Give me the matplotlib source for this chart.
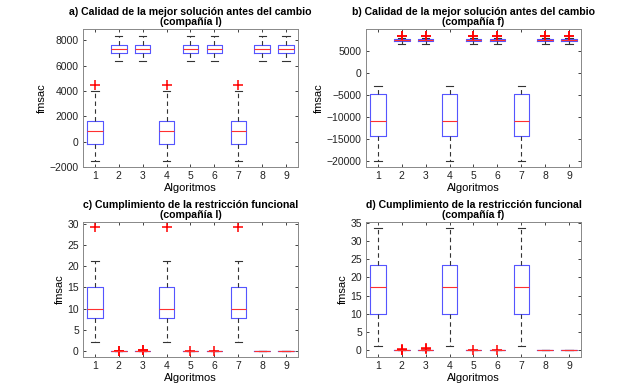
import matplotlib
matplotlib.use("Agg")
import matplotlib.pyplot as plt

plt.rcParams['font.family'] = ['Liberation Sans', 'DejaVu Sans']

algoritmos = [1, 2, 3, 4, 5, 6, 7, 8, 9]
tick_labels = ['1', '2', '3', '4', '5', '6', '7', '8', '9']

# Panel a: Calidad, compañía l
a_whislo = [-1550, 6350, 6350, -1550, 6350, 6350, -1550, 6350, 6350]
a_q1     = [-150, 7000, 7000, -150, 7000, 7000, -150, 7000, 7000]
a_med    = [850, 7300, 7300, 850, 7300, 7300, 850, 7300, 7300]
a_q3     = [1650, 7650, 7650, 1650, 7650, 7650, 1650, 7650, 7650]
a_whishi = [4000, 8350, 8350, 4000, 8350, 8350, 4000, 8350, 8350]
a_fliers = [[4500], [], [], [4500], [], [], [4500], [], []]

# Panel b: Calidad, compañía f
b_whislo = [-20000, 6750, 6750, -20000, 6750, 6750, -20000, 6750, 6750]
b_q1     = [-14400, 7250, 7250, -14400, 7250, 7250, -14400, 7250, 7250]
b_med    = [-11000, 7500, 7500, -11000, 7500, 7500, -11000, 7500, 7500]
b_q3     = [-4700, 7750, 7750, -4700, 7750, 7750, -4700, 7750, 7750]
b_whishi = [-3000, 8100, 8100, -3000, 8100, 8100, -3000, 8100, 8100]
b_fliers = [[], [8450, 8600], [8450, 8600], [], [8450, 8600], [8450, 8600], [], [8450, 8600], [8450, 8600]]

# Panel c: Cumplimiento, compañía l
c_whislo = [2.2, 0, 0, 2.2, 0, 0, 2.2, 0, 0]
c_q1     = [7.8, 0, 0, 7.8, 0, 0, 7.8, 0, 0]
c_med    = [9.8, 0, 0, 9.8, 0, 0, 9.8, 0, 0]
c_q3     = [15.0, 0, 0, 15.0, 0, 0, 15.0, 0, 0]
c_whishi = [21.2, 0, 0, 21.2, 0, 0, 21.2, 0, 0]
c_fliers = [[29.2], [0.02, 0.08], [0.15, 0.3], [29.2], [0.03], [0.03], [29.2], [], []]

# Panel d: Cumplimiento, compañía f
d_whislo = [1.1, 0, 0, 1.1, 0, 0, 1.1, 0, 0]
d_q1     = [9.9, 0, 0, 9.9, 0, 0, 9.9, 0, 0]
d_med    = [17.4, 0, 0, 17.4, 0, 0, 17.4, 0, 0]
d_q3     = [23.3, 0, 0, 23.3, 0, 0, 23.3, 0, 0]
d_whishi = [33.6, 0, 0, 33.6, 0, 0, 33.6, 0, 0]
d_fliers = [[], [0.0, 0.1, 0.2], [0.25, 0.5], [], [0.03], [0.03], [], [], []]

titles = ['a) Calidad de la mejor solución antes del cambio\n(compañía l)',
          'b) Calidad de la mejor solución antes del cambio\n(compañía f)',
          'c) Cumplimiento de la restricción funcional\n(compañía l)',
          'd) Cumplimiento de la restricción funcional\n(compañía f)']

panels = [
    (a_whislo, a_q1, a_med, a_q3, a_whishi, a_fliers, (-2000, 8900), [-2000, 0, 2000, 4000, 6000, 8000]),
    (b_whislo, b_q1, b_med, b_q3, b_whishi, b_fliers, (-21450, 10100), [-20000, -15000, -10000, -5000, 0, 5000]),
    (c_whislo, c_q1, c_med, c_q3, c_whishi, c_fliers, (-1.4, 30.4), [0, 5, 10, 15, 20, 25, 30]),
    (d_whislo, d_q1, d_med, d_q3, d_whishi, d_fliers, (-1.9, 35.2), [0, 5, 10, 15, 20, 25, 30, 35]),
]

W, H = 642, 388
fig = plt.figure(figsize=(W / 100, H / 100), dpi=100)
fig.patch.set_facecolor('white')

# pixel boxes (left, top, right, bottom)
boxes = [(83, 29, 298, 167), (366, 29, 581, 167), (83, 222, 298, 357), (366, 222, 581, 357)]

for i, (wl, q1, md, q3, wh, fl, ylim, yt) in enumerate(panels):
    l, t, r, b = boxes[i]
    ax = fig.add_axes([l / W, 1 - b / H, (r - l) / W, (b - t) / H])
    stats = []
    for k in range(len(algoritmos)):
        stats.append(dict(whislo=wl[k], q1=q1[k], med=md[k], q3=q3[k], whishi=wh[k], fliers=fl[k]))
    ax.bxp(stats, positions=algoritmos, widths=0.65, showfliers=True,
           boxprops=dict(color='#5555ff', linewidth=0.8),
           medianprops=dict(color='#ff3030', linewidth=0.8),
           whiskerprops=dict(color='#333333', linewidth=0.8, linestyle=(0, (4, 3))),
           capprops=dict(color='#333333', linewidth=0.8),
           capwidths=0.3,
           flierprops=dict(marker='+', markeredgecolor='#ff0000', markersize=7, markeredgewidth=1.1, linestyle='none'))
    ax.set_xlim(0.5, 9.5)
    ax.set_ylim(*ylim)
    ax.set_yticks(yt)
    ax.set_xticks(algoritmos)
    ax.set_xticklabels(tick_labels)
    ax.tick_params(direction='in', length=2.5, width=0.6, labelsize=7.5, colors='#222222',
                   top=True, right=True, pad=3)
    for s in ax.spines.values():
        s.set_color('#888888')
        s.set_linewidth(0.7)
    ax.set_xlabel('Algoritmos', fontsize=8, labelpad=1)
    ax.set_ylabel('fmsac', fontsize=8, labelpad=2)
    ax.set_title(titles[i], fontsize=7.6, fontweight='bold', pad=3, linespacing=1.0)

fig.savefig('out.png', dpi=100, facecolor='white')
